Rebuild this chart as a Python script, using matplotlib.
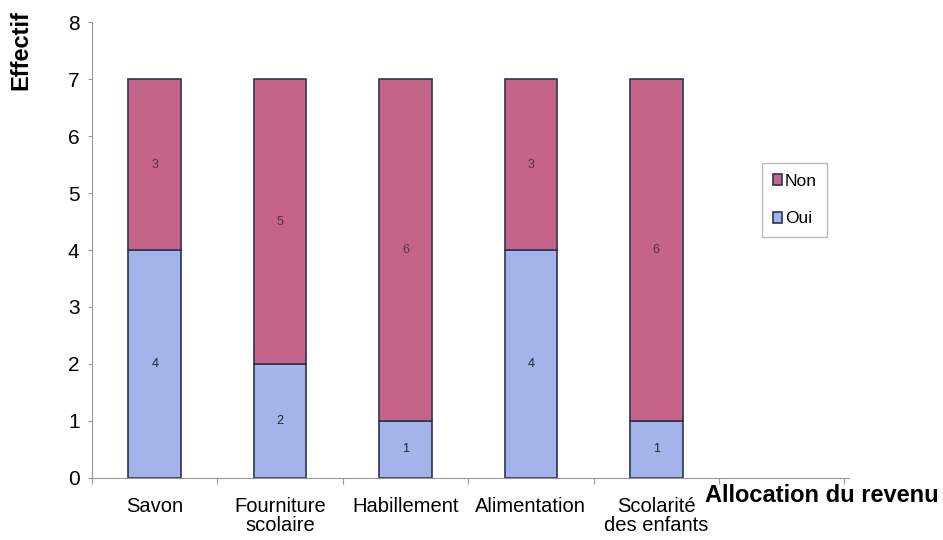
import matplotlib
matplotlib.use("Agg")
import matplotlib.pyplot as plt
import numpy as np

categories = ["Savon", "Fourniture\nscolaire", "Habillement", "Alimentation", "Scolarité\ndes enfants"]
oui = [4, 2, 1, 4, 1]
non = [3, 5, 6, 3, 6]

plt.rcParams["font.family"] = ["Liberation Sans", "DejaVu Sans"]

fig = plt.figure(figsize=(9.43, 5.4), dpi=100)
ax = fig.add_axes([0.0976, 0.115, 0.803, 0.844])

x = np.arange(len(categories))
w = 0.42
blue = "#a4b3ea"
pink = "#c4648a"
edge = "#2e3450"

b_oui = ax.bar(x, oui, w, color=blue, edgecolor=edge, linewidth=1.2, label="Oui")
b_non = ax.bar(x, non, w, bottom=oui, color=pink, edgecolor=edge, linewidth=1.2, label="Non")

for i in range(len(categories)):
    ax.text(x[i], oui[i] / 2, str(oui[i]), ha="center", va="center", fontsize=9, color="#222233")
    ax.text(x[i], oui[i] + non[i] / 2, str(non[i]), ha="center", va="center", fontsize=9, color="#5a3040")

ax.set_xlim(-0.46, 5.54)
ax.set_ylim(0, 8)
ax.set_yticks(range(9))
ax.tick_params(axis="y", labelsize=15, length=3, color="#999999", pad=6)

# category labels centred on bars, ticks on the slot boundaries
ax.set_xticks(np.arange(-0.5, 6.0, 1.0))
ax.set_xticklabels([])
ax.tick_params(axis="x", length=4, color="#999999")
for i, c in enumerate(categories):
    ax.text(x[i], -0.33, c, ha="center", va="top", fontsize=14.5, linespacing=1.0)

for s in ["top", "right"]:
    ax.spines[s].set_visible(False)
for s in ["left", "bottom"]:
    ax.spines[s].set_color("#999999")

fig.text(0.022, 0.907, "Effectif", rotation=90, ha="center", va="center", fontsize=17, fontweight="bold")
fig.text(0.748, 0.083, "Allocation du revenu", ha="left", va="center", fontsize=17, fontweight="bold")

leg = ax.legend(handles=[b_non, b_oui], loc="upper left", bbox_to_anchor=(0.885, 0.69),
                fontsize=12.5, frameon=True, fancybox=False, handlelength=0.55, handleheight=0.55,
                handletextpad=0.15, labelspacing=1.3, borderpad=0.6, borderaxespad=0)
leg.get_frame().set_edgecolor("#aaaaaa")
leg.get_frame().set_linewidth(1.0)

plt.savefig("out.png", dpi=100)
plt.close()
